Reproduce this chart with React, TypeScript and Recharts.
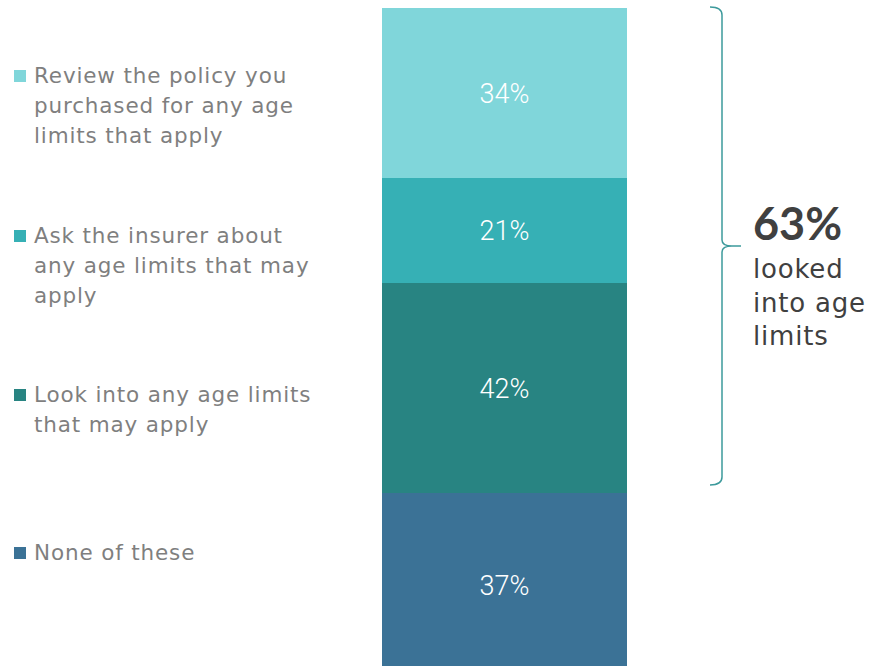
import { BarChart, Bar, XAxis, YAxis, LabelList, ReferenceArea } from 'recharts'

// stacking order: first entry sits at the bottom of the bar
const SERIES_KEYS = ['none', 'look', 'ask', 'review']
const SERIES_VALUES = [37, 42, 21, 34]
const SERIES_COLORS = ['#3b7296', '#288482', '#36b0b5', '#80d6da']
const LEGEND_LINES: Record<string, string[]> = {
  review: ['Review the policy you', 'purchased for any age', 'limits that apply'],
  ask: ['Ask the insurer about', 'any age limits that may', 'apply'],
  look: ['Look into any age limits', 'that may apply'],
  none: ['None of these'],
}
const LEGEND_ORDER = ['review', 'ask', 'look', 'none']
const LEGEND_TOPS = [61, 221, 380, 538]

const NET_VALUE = 63
const NET_LINES = ['looked', 'into age', 'limits']
const NET_FROM = 37 // bottom of the bracketed segments
const Y_MAX = 134

const row: Record<string, number | string> = { name: 'total' }
SERIES_KEYS.forEach((k, i) => {
  row[k] = SERIES_VALUES[i]
})
const data = [row]

const TEXT_FONT = '"DejaVu Sans", sans-serif'

function LegendBlock() {
  return (
    <div style={{ position: 'absolute', left: 0, top: 0, width: 340, height: 666 }}>
      {LEGEND_ORDER.map((key, i) => {
        const color = SERIES_COLORS[SERIES_KEYS.indexOf(key)]
        return (
          <div
            key={key}
            style={{ position: 'absolute', left: 14, top: LEGEND_TOPS[i], display: 'flex', alignItems: 'flex-start' }}
          >
            <div style={{ width: 12, height: 12, background: color, marginTop: 9, marginRight: 8 }} />
            <div
              style={{
                fontFamily: TEXT_FONT,
                fontSize: 21.5,
                letterSpacing: 0.85,
                lineHeight: '30px',
                color: '#7f7f7f',
                whiteSpace: 'nowrap',
              }}
            >
              {LEGEND_LINES[key].map((line) => (
                <div key={line}>{line}</div>
              ))}
            </div>
          </div>
        )
      })}
    </div>
  )
}

function Bracket(props: { x?: number; y?: number; width?: number; height?: number }) {
  const { x = 0, y = 0, width = 0, height = 0 } = props
  const bx = x + width + 95
  const top = y - 1
  const bot = y + height - 8
  const mid = (top + bot) / 2
  const d = [
    `M ${bx - 12} ${top}`,
    `Q ${bx} ${top} ${bx} ${top + 8}`,
    `L ${bx} ${mid - 6}`,
    `Q ${bx} ${mid} ${bx + 10} ${mid}`,
    `L ${bx + 19} ${mid}`,
    `M ${bx + 10} ${mid}`,
    `Q ${bx} ${mid} ${bx} ${mid + 6}`,
    `L ${bx} ${bot - 8}`,
    `Q ${bx} ${bot} ${bx - 12} ${bot}`,
  ].join(' ')
  const tx = bx + 31
  return (
    <g>
      <path d={d} fill="none" stroke="#3d9a9c" strokeWidth={1.5} />
      <text x={tx} y={mid - 6} fontFamily="Lato, sans-serif" fontWeight={700} fontSize={45} fill="#404040">
        {`${NET_VALUE}%`}
      </text>
      {NET_LINES.map((line, i) => (
        <text
          key={line}
          x={tx}
          y={mid + 32 + i * 33.5}
          fontFamily={TEXT_FONT}
          fontSize={26}
          letterSpacing={0.8}
          fill="#404040"
        >
          {line}
        </text>
      ))}
    </g>
  )
}

export default function App() {
  return (
    <div style={{ position: 'absolute', left: 0, top: 0, width: 870, height: 666, overflow: 'hidden', background: '#fff' }}>
      <LegendBlock />
      <div style={{ position: 'absolute', left: 0, top: 0 }}>
        <BarChart
          width={870}
          height={692}
          data={data}
          margin={{ top: 8, right: 243, bottom: 14, left: 382 }}
          barCategoryGap={0}
        >
          <XAxis dataKey="name" hide />
          <YAxis hide domain={[0, Y_MAX]} />
          {SERIES_KEYS.map((key, i) => (
            <Bar key={key} dataKey={key} stackId="a" fill={SERIES_COLORS[i]} isAnimationActive={false}>
              <LabelList
                dataKey={key}
                position="center"
                formatter={(v: number) => `${v}%`}
                fill="#ffffff"
                fontSize={27}
                fontFamily="Roboto, sans-serif"
                fontWeight={300}
              />
            </Bar>
          ))}
          <ReferenceArea y1={NET_FROM} y2={Y_MAX} ifOverflow="visible" shape={<Bracket />} />
        </BarChart>
      </div>
    </div>
  )
}
